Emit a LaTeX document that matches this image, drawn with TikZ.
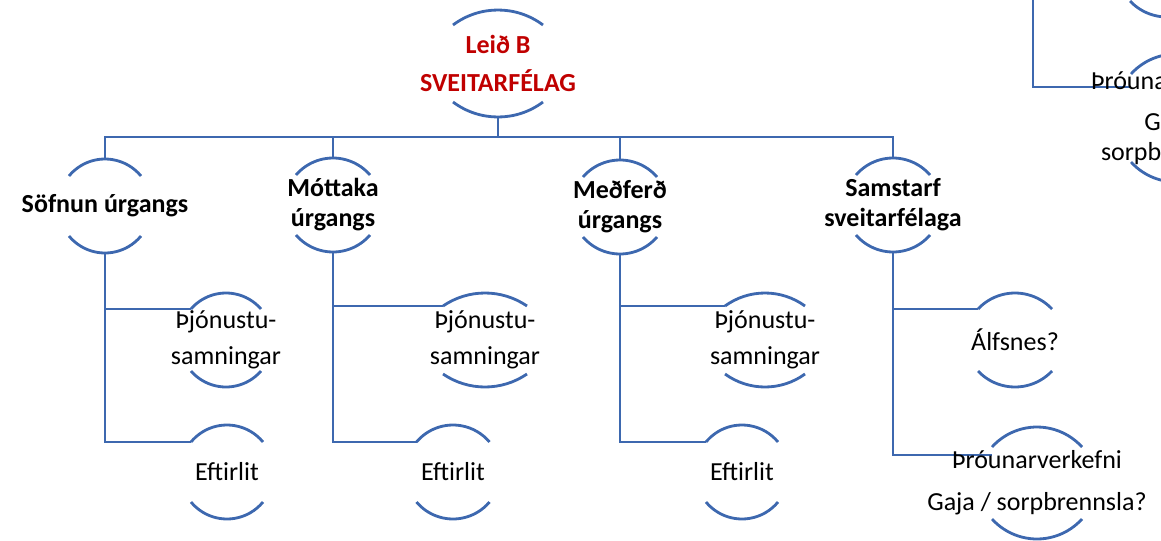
\documentclass[tikz,border=0pt]{standalone}
\usepackage{fontspec}
\setmainfont{Carlito}
\usetikzlibrary{calc,backgrounds}
\definecolor{lineblue}{RGB}{61,104,175}
\definecolor{darkred}{RGB}{192,0,0}
\newcommand{\diafont}{\fontsize{18.5pt}{21.3pt}\selectfont}
% top and bottom arcs round a node: #1 name, #2 half chord, #3 arc height, #4 centre to apex
\newcommand{\ringarcs}[4]{%
  \pgfmathsetmacro\arcrad{(#2*#2+#3*#3)/(2*#3)}
  \pgfmathsetmacro\arcang{asin(#2/\arcrad)}
  \draw[ring] ($(#1)+(-#2,{#3-#4})$) arc[start angle={270-\arcang}, end angle={270+\arcang}, radius=\arcrad];
  \draw[ring] ($(#1)+(-#2,{#4-#3})$) arc[start angle={90+\arcang}, end angle={90-\arcang}, radius=\arcrad];
  \coordinate (#1-top) at ($(#1)+(0,-#4)$);
  \coordinate (#1-bot) at ($(#1)+(0,#4)$);
  \coordinate (#1-tl) at ($(#1)+(-#2,{#3-#4})$);
}
\tikzset{
  ring/.style={draw=lineblue, line width=2pt},
  link/.style={draw=lineblue, line width=2pt},
  headtext/.style={font=\diafont\bfseries, text=darkred, align=center, inner sep=0pt},
  grouptext/.style={font=\diafont\bfseries, align=center, inner sep=0pt},
  leaftext/.style={font=\diafont, align=center, inner sep=0pt},
}
\begin{document}
\begin{tikzpicture}[x=0.025cm, y=-0.025cm]
  \useasboundingbox (0,0) rectangle (1161,540);
  \clip (0,0) rectangle (1161,540);
  \node[headtext] (lb) at (498,63.5) {Leið B\\[6.3pt]SVEITARFÉLAG};
  \node[grouptext] (s) at (105,206) {Söfnun úrgangs};
  \node[grouptext] (m) at (333,205) {Móttaka\\úrgangs};
  \node[grouptext] (f) at (620,207) {Meðferð\\úrgangs};
  \node[grouptext] (k) at (893,205) {Samstarf\\sveitarfélaga};
  \node[leaftext] (s1) at (226,340) {Þjónustu-\\[4.2pt]samningar};
  \node[leaftext] (s2) at (227,472) {Eftirlit};
  \node[leaftext] (m1) at (485,340) {Þjónustu-\\[4.2pt]samningar};
  \node[leaftext] (m2) at (453,472) {Eftirlit};
  \node[leaftext] (f1) at (765,340) {Þjónustu-\\[4.2pt]samningar};
  \node[leaftext] (f2) at (742,472) {Eftirlit};
  \node[leaftext] (k1) at (1015,340) {Álfsnes?};
  \node[leaftext] (k2) at (1037,483) {Þróunarverkefni\\[8.5pt]Gaja / sorpbrennsla?};
  \node[leaftext] (q2) at (1176,118) {Þróunarverkefni\\[7.7pt]Gaja /\\sorpbrennsla?};
  \coordinate (q1) at (1167,-30);
  \begin{scope}[on background layer]
    \clip (0,0) rectangle (1161,540);
    \foreach \nname/\halfw/\sag/\reach in {lb/45/15/53.5, s/36/17/47, m/37/17/47, f/37/17/47, k/37/17/47,
        s1/35/16/47, s2/36/17/47, m1/42/13/47, m2/36.5/17/47, f1/40/13/47, f2/36/17/47,
        k1/37/16/47, k2/45/20/56, q1/37/16/47, q2/45/20/64}
      {\ringarcs{\nname}{\halfw}{\sag}{\reach}}
    \coordinate (bar) at ($(lb-bot)+(0,20)$);
    \draw[link] (lb-bot) -- (bar);
    \foreach \g in {s,m,f,k}
      \draw[link] (bar) -| (\g-top);
    \foreach \g in {s,m,f} {
      \draw[link] (\g-bot) |- (\g1-tl);
      \draw[link] (\g-bot) |- (\g2-tl);
    }
    \draw[link] (k-bot) |- (k1-tl);
    \draw[link] (k-bot) |- ($(k2-tl)+(0,8)$);
    \coordinate (qcol) at (1033,-5);
    \draw[link] (qcol) |- ($(q2-tl)+(0,13)$);
  \end{scope}
\end{tikzpicture}
\end{document}
